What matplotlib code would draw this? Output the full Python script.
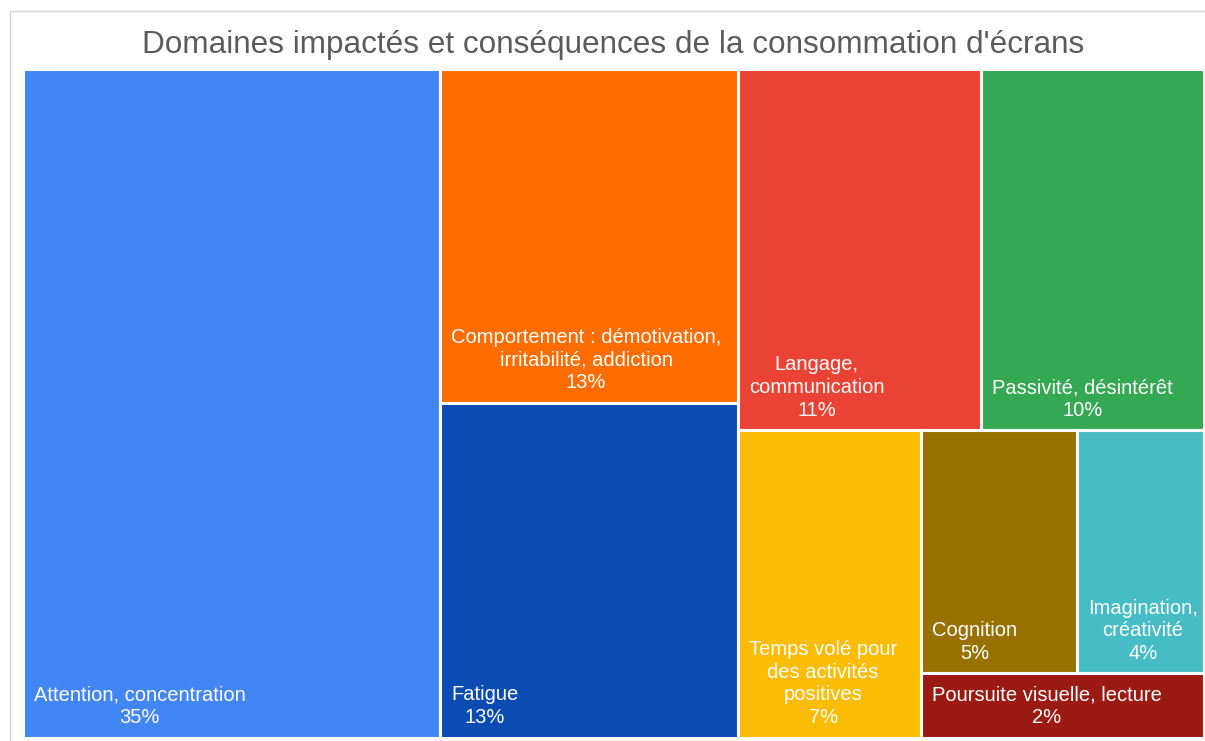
import matplotlib
matplotlib.use("Agg")
import matplotlib.pyplot as plt
from matplotlib.patches import Rectangle

plt.rcParams["font.family"] = ["Liberation Sans", "DejaVu Sans"]

# Données (parts estimées d'après les surfaces du treemap)
categories = [
    "Attention, concentration",
    "Comportement : démotivation,\nirritabilité, addiction",
    "Fatigue",
    "Langage,\ncommunication",
    "Passivité, désintérêt",
    "Temps volé pour\ndes activités\npositives",
    "Cognition",
    "Imagination,\ncréativité",
    "Poursuite visuelle, lecture",
]
values = [35.3, 12.6, 12.6, 11.1, 10.2, 7.1, 4.8, 3.9, 2.3]
colors = [
    "#4285F4", "#FF6D00", "#0B4CB2", "#EA4335", "#34A853",
    "#FBBC04", "#987100", "#46BDC6", "#9B1B12",
]
title = "Domaines impactés et conséquences de la consommation d'écrans"

W, H = 1205, 741


def worst(row, side):
    s = sum(row)
    return max(max(side * side * r / (s * s), (s * s) / (side * side * r)) for r in row)


def squarify(vals, x, y, w, h):
    """Squarified treemap, y vers le bas."""
    total = sum(vals)
    areas = [v * w * h / total for v in vals]
    rects = []
    i = 0
    while i < len(areas):
        side = min(w, h)
        row = [areas[i]]
        j = i + 1
        while j < len(areas) and worst(row + [areas[j]], side) <= worst(row, side):
            row.append(areas[j])
            j += 1
        s = sum(row)
        if w >= h:
            cw = s / h
            yy = y
            for a in row:
                rects.append((x, yy, cw, a / cw))
                yy += a / cw
            x += cw
            w -= cw
        else:
            rh = s / w
            xx = x
            for a in row:
                rects.append((xx, y, a / rh, rh))
                xx += a / rh
            y += rh
            h -= rh
        i = j
    return rects


order = sorted(range(len(values)), key=lambda k: -values[k])
rects = squarify([values[k] for k in order], 22.5, 68.5, 1181.5, 669)
total = sum(values)

fig = plt.figure(figsize=(W / 100, H / 100), dpi=100)
ax = fig.add_axes([0, 0, 1, 1])
ax.set_xlim(0, W)
ax.set_ylim(H, 0)
ax.axis("off")

# cadre du graphique
ax.add_patch(Rectangle((10, 11), W + 20, H + 20, fill=False,
                       edgecolor="#d6d6d6", lw=1.0))

for k, (rx, ry, rw, rh) in zip(order, rects):
    ax.add_patch(Rectangle((rx, ry), rw, rh, facecolor=colors[k],
                           edgecolor="white", lw=2.2))
    pct = round(values[k] / total * 100)
    ax.text(rx + 11, ry + rh - 10.5, f"{categories[k]}\n{pct}%",
            color="white", fontsize=14.5, ha="left", va="bottom",
            multialignment="center", linespacing=1.24)

ax.text(613.5, 53, title, fontsize=22.7, color="#5b5b5b",
        ha="center", va="baseline")

fig.savefig("out.png", dpi=100)
